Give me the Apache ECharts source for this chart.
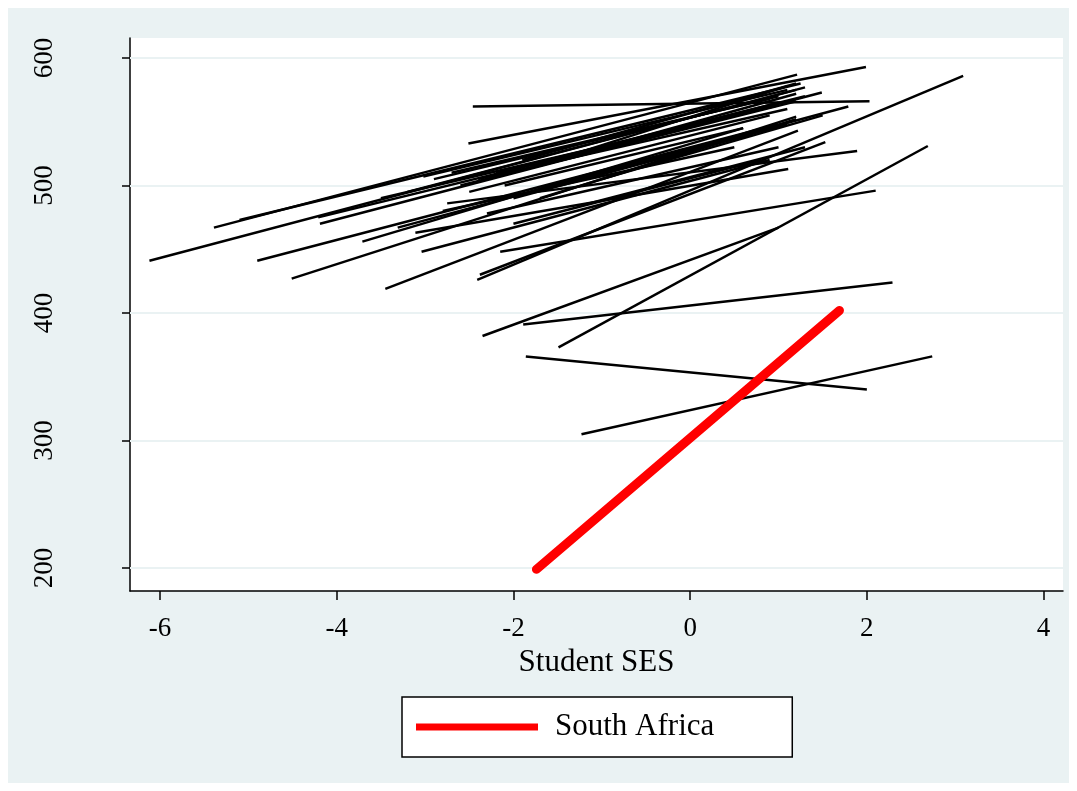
<!DOCTYPE html>
<html>
<head>
<meta charset="utf-8">
<script src="https://cdn.jsdelivr.net/npm/echarts@6/dist/echarts.min.js"></script>
<style>html,body{margin:0;padding:0;background:#fff}#c{width:1077px;height:791px}</style>
</head>
<body>
<div id="c"></div>
<script>
// Tick labels
const xTicks = [-6, -4, -2, 0, 2, 4];
const yTicks = [200, 300, 400, 500, 600];

// Country regression lines (start x, start y, end x, end y)
const startX = [-2.46,-2.51,-1.86,-1.23,-1.89,-2.35,-1.49,-2.41,-2.15,-3.45,-2.38,-2.75,-3.11,-6.12,-5.39,-5.10,-4.90,-4.51,-4.19,-4.21,-3.71,-3.31,-3.04,-3.02,-2.90,-2.60,-2.50,-2.20,-2.00,-1.80,-1.60,-1.50,-2.80,-2.30,-1.20,-2.00,-1.00,-3.20,-2.70,-2.40,-1.90,-3.50,-1.30,-2.10,-1.70];
const startY = [562,533,366,305,391,382,373,426,448,419,430,486,463,441,467,473,441,427,470,475,456,467,448,507,505,500,495,510,490,515,500,520,480,478,485,470,505,495,510,505,520,490,525,500,490];
const endX   = [2.03,1.99,2.00,2.74,2.29,1.00,2.69,3.09,2.10,1.22,1.53,1.89,1.11,1.30,1.21,1.25,1.00,1.20,1.49,0.80,0.60,1.79,0.90,1.10,1.00,1.20,0.90,1.30,1.10,1.00,0.70,1.20,0.50,1.00,1.30,0.80,1.50,1.20,0.90,1.10,1.20,1.00,1.10,0.60,1.20];
const endY   = [566,593,340,366,424,467,531,586,496,543,534,527,513,577,587,580,548,554,573,560,545,562,520,575,570,566,555,570,548,565,540,572,530,530,530,520,555,575,568,560,580,563,578,545,552];

// South Africa
const saName = 'South Africa';
const saX = [-1.74, 1.69];
const saY = [199, 402];

const chart = echarts.init(document.getElementById('c'), null, {renderer: 'canvas'});
const FONT = "'Liberation Serif', 'DejaVu Serif', serif";

const series = [];
series.push({
  name: 'grid', type: 'line', data: [], z: 1, silent: true,
  markLine: {
    z: 1, silent: true, symbol: ['none', 'none'], label: {show: false},
    lineStyle: {color: '#EAF2F3', width: 2, type: 'solid'},
    animation: false,
    data: yTicks.map(v => ({yAxis: v}))
  }
});
for (let i = 0; i < startX.length; i++) {
  series.push({
    name: 'c' + i, type: 'line', showSymbol: false, symbol: 'none', z: 2,
    lineStyle: {color: '#000', width: 2.5},
    data: [[startX[i], startY[i]], [endX[i], endY[i]]],
    animation: false, silent: true
  });
}
series.push({
  name: saName, type: 'line', showSymbol: false, symbol: 'none', z: 10,
  itemStyle: {color: '#FF0000'},
  lineStyle: {color: '#FF0000', width: 9, cap: 'round'},
  data: saX.map((x, i) => [x, saY[i]]),
  animation: false, silent: true
});

chart.setOption({
  animation: false,
  backgroundColor: '#ffffff',
  graphic: [{type: 'rect', shape: {x: 8, y: 8, width: 1061, height: 775}, style: {fill: '#EAF2F3'}, z: -10, silent: true}],
  grid: {left: 130, right: 14, top: 38, bottom: 200, show: true, backgroundColor: '#ffffff', borderWidth: 0},
  xAxis: {
    type: 'value', min: -6.34, max: 4.22,
    name: 'Student SES', nameLocation: 'middle', nameGap: 56,
    nameTextStyle: {fontFamily: FONT, fontSize: 31, color: '#000'},
    axisLine: {show: true, onZero: false, lineStyle: {color: '#000', width: 1.5}},
    axisTick: {show: true, length: 9, customValues: xTicks, lineStyle: {color: '#000', width: 1.5}},
    axisLabel: {customValues: xTicks, margin: 24, fontFamily: FONT, fontSize: 27, color: '#000'},
    splitLine: {show: false}
  },
  yAxis: {
    type: 'value', min: 182, max: 615.7,
    axisLine: {show: true, onZero: false, lineStyle: {color: '#000', width: 1.5}},
    axisTick: {show: true, length: 8, customValues: yTicks, lineStyle: {color: '#000', width: 1.5}},
    axisLabel: {customValues: yTicks, rotate: 90, margin: 72, fontFamily: FONT, fontSize: 27, color: '#000'},
    splitLine: {show: false}
  },
  legend: {
    data: [saName], left: 402, top: 697,
    padding: [12, 78, 12, 14],
    backgroundColor: '#ffffff', borderColor: '#000', borderWidth: 1.5, borderRadius: 0,
    icon: 'rect', itemWidth: 122, itemHeight: 7,
    textStyle: {fontFamily: FONT, fontSize: 31, color: '#000', padding: [6, 0, 0, 12], lineHeight: 30},
    selectedMode: false
  },
  series: series
});
</script>
</body>
</html>
